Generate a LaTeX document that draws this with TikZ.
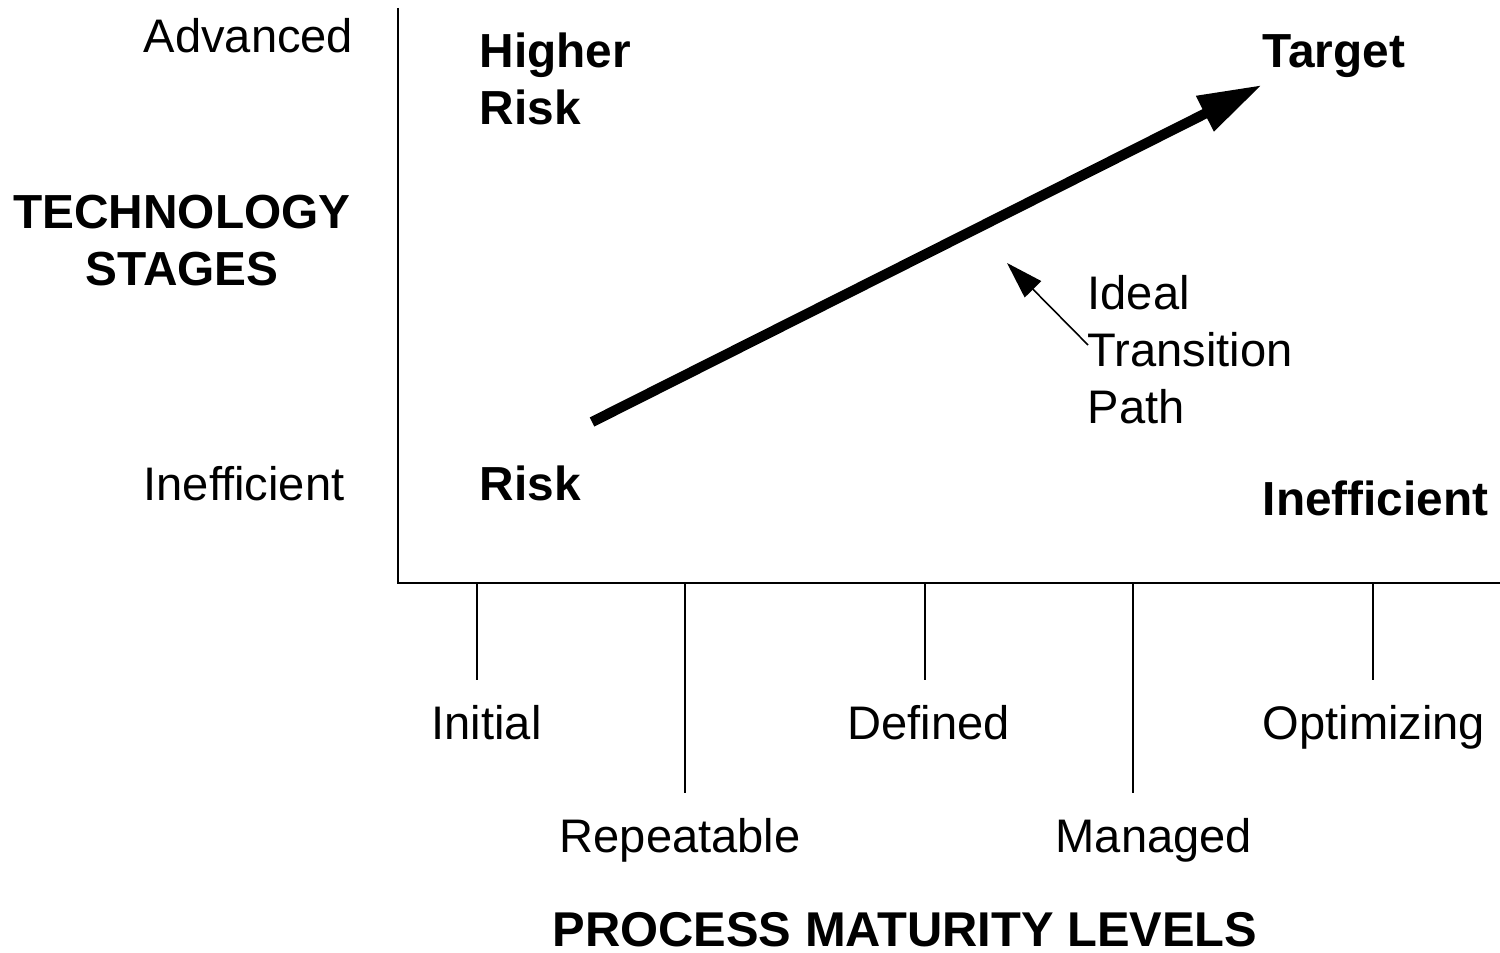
\documentclass[tikz,border=0pt]{standalone}
\usepackage{fontspec}
\setmainfont{Liberation Sans}
\usetikzlibrary{arrows.meta}
\newcommand{\lvltick}[3]{\draw[axisline] (#1,583) -- (#1,#2) coordinate (#3);}
\tikzset{
  axisline/.style={line width=0.6pt},
  lbl/.style={inner sep=0pt, anchor=base west, font=\fontsize{13.4}{16.3}\selectfont, align=left},
  blbl/.style={lbl, font=\fontsize{13.6}{16.3}\selectfont\bfseries}
}
\begin{document}
\begin{tikzpicture}[x=0.1mm,y=-0.1mm]
        \useasboundingbox (0,0) rectangle (1500,953);
        % axes
        \coordinate (top) at (398,8);
        \coordinate (orig) at (398,583);
        \coordinate (right) at (1500,583);
        \draw[axisline] (top) -- (orig) -- (right);
        % ticks
        \lvltick{477}{680}{t1}
        \lvltick{685}{793}{t2}
        \lvltick{925}{680}{t3}
        \lvltick{1133}{793}{t4}
        \lvltick{1373}{680}{t5}
        % level labels
        \node[lbl] (initial) at (431,740) {Initial};
        \node[lbl] (repeatable) at (559,853) {Repeatable};
        \node[lbl] (defined) at (847,740) {Defined};
        \node[lbl] (managed) at (1055,853) {Managed};
        \node[lbl] (optimizing) at (1262,740) {Optimizing};
        \node[blbl, anchor=base, font=\fontsize{13.9}{16.3}\selectfont\bfseries] (pml) at (905,947) {PROCESS MATURITY LEVELS};
        % stage labels
        \node[lbl] (advanced) at (143,53) {Advanced};
        \node[lbl] (ineffl) at (143,501) {Inefficient};
        \node[blbl, anchor=base, align=center] (techst) at (182,286) {TECHNOLOGY\\STAGES};
        % corners
        \node[blbl] (higher) at (479,125) {Higher\\Risk};
        \node[blbl] (target) at (1262,68) {Target};
        \node[blbl] (risk) at (479,501) {Risk};
        \node[blbl] (ineffr) at (1262,516) {Inefficient};
        % path
        \node[lbl] (ideal) at (1087,424) {Ideal\\Transition\\Path};
        \coordinate (pstart) at (592,422);
        \coordinate (ptip) at (1262,85);
        \draw[line width=2.9pt, -{Triangle[length=6.4mm, width=3.7mm]}] (pstart) -- (ptip);
        \coordinate (istart) at (1088,345);
        \coordinate (itip) at (1007,263);
        \draw[line width=0.45pt, -{Triangle[length=3.7mm, width=2.3mm]}] (istart) -- (itip);
\end{tikzpicture}
\end{document}
